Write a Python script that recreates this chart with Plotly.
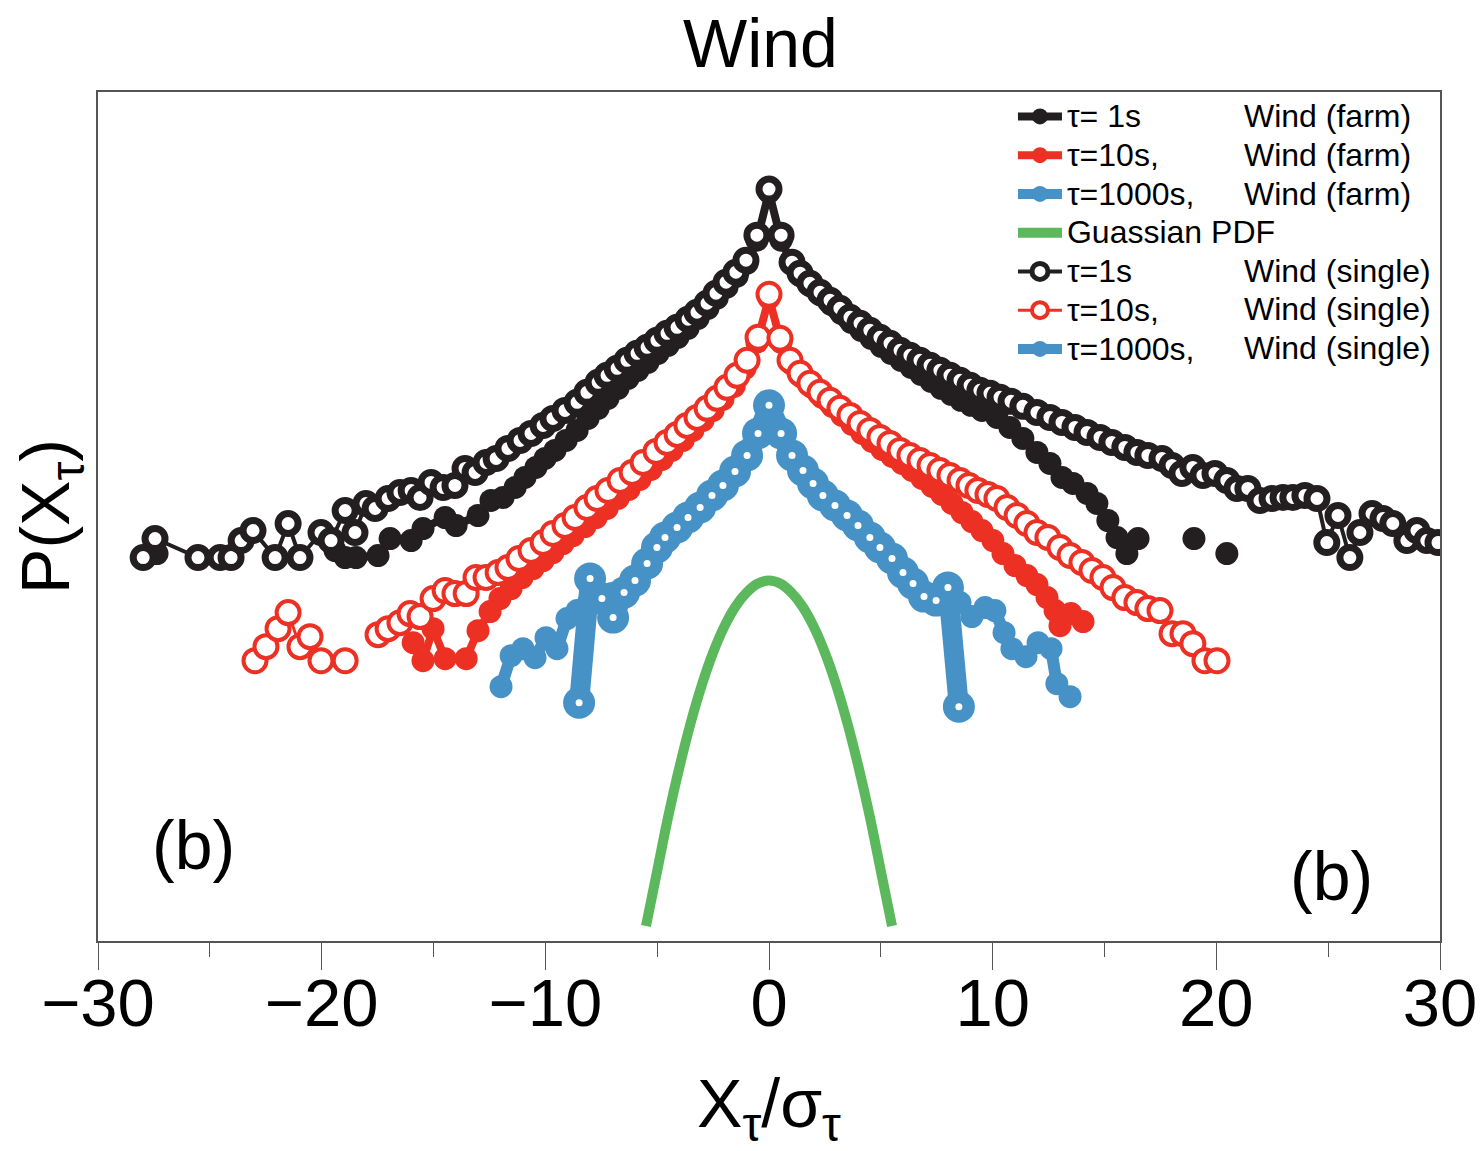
import plotly.graph_objects as go

# ---------------- data (x = X_tau / sigma_tau, y = log-density, arbitrary offset units) ----------------
farm_1s_x = [-27.36, None, -19.40, -18.95, -18.46, -17.48, -16.94, -16.00, -15.47, -14.48, -13.99, -13.01,
             -12.43, -11.89, -11.35, -10.91, -10.42, -10.01, -9.57, -9.07, -8.58, -8.09, -7.64, -7.20,
             -6.75, -6.30, -5.86, -5.41, -4.96, -4.51, -4.07, -3.62, -3.17, -2.73, -2.32, -1.88, -1.43,
             -0.98, -0.54, 0.0, 0.54, 1.03, 1.43, 1.88, 2.32, 2.77, 3.22, 3.67, 4.11, 4.56, 5.01, 5.45,
             5.90, 6.35, 6.79, 7.24, 7.69, 8.14, 8.58, 9.03, 9.52, 10.19, 10.77, 11.35, 11.98, 12.56,
             13.10, 13.59, 14.22, 14.66, 15.15, 15.56, 16.00, 16.50, None, 19.00, None, 20.47]
farm_1s_y = [38.7, None, 39.0, 38.3, 38.3, 38.5, 40.2, 40.0, 41.2, 42.3, 41.5, 42.5,
             44.0, 44.3, 45.3, 46.3, 47.3, 48.2, 49.0, 50.0, 51.0, 52.2, 53.2, 54.2,
             55.2, 56.2, 57.0, 57.8, 58.7, 59.5, 60.3, 61.2, 62.2, 63.2, 64.2, 65.3, 66.4,
             67.7, 70.0, 74.8, 70.0, 67.6, 66.4, 65.4, 64.5, 63.6, 62.7, 61.8, 61.0, 60.2, 59.4, 58.7,
             58.0, 57.3, 56.6, 55.9, 55.2, 54.6, 54.0, 53.5, 53.0, 52.3, 51.3, 50.2, 48.8, 47.7,
             46.3, 45.7, 44.7, 43.7, 42.0, 40.3, 38.7, 40.2, None, 40.2, None, 38.7]

farm_10s_x = [-15.91, -15.47, -15.02, -14.48, -13.54, -13.01, -12.47, -12.03, -11.53, -11.04, -10.55,
              -10.10, -9.66, -9.21, -8.76, -8.23, -7.73, -7.24, -6.75, -6.26, -5.77, -5.27, -4.78,
              -4.34, -3.84, -3.40, -2.95, -2.50, -2.06, -1.56, -1.07, -0.54, 0.0, 0.54, 1.03, 1.48,
              1.92, 2.37, 2.82, 3.26, 3.71, 4.16, 4.60, 5.05, 5.50, 5.95, 6.39, 6.84, 7.29, 7.73,
              8.18, 8.63, 9.07, 9.52, 10.01, 10.46, 11.00, 11.53, 11.98, 12.43, 12.79, 13.01, 13.50, 14.04]
farm_10s_y = [29.8, 28.0, 31.2, 28.2, 28.2, 31.0, 32.9, 34.2, 35.2, 36.3, 37.2,
              38.0, 38.8, 39.7, 40.5, 41.4, 42.3, 43.2, 44.2, 45.1, 46.1, 47.1, 48.1,
              49.0, 50.0, 51.0, 52.0, 53.0, 54.1, 55.4, 57.2, 59.8, 64.2, 59.8, 57.6, 56.3,
              55.3, 54.3, 53.4, 52.5, 51.6, 50.7, 49.9, 49.1, 48.4, 47.7, 47.0, 46.2, 45.4, 44.6,
              43.7, 42.8, 41.9, 41.0, 40.0, 38.7, 37.5, 36.5, 35.6, 34.3, 33.0, 31.5, 32.7, 31.9]

farm_1000s_x = [-11.98, -11.53, -11.00, -10.46, -9.97, -9.48, -9.03, -8.58, -8.09, -7.55, -7.02, -6.48,
                -5.95, -5.45, -5.01, -4.60, -4.11, -3.62, -3.08, -2.55, -2.06, -1.52, -0.98, -0.49,
                0.0, 0.54, 1.03, 1.52, 1.97, 2.41, 2.95, 3.49, 3.98, 4.51, 4.96, 5.50, 5.99, 6.44,
                6.93, 7.47, 8.00, 8.54, 9.07, 9.66, 10.10, 10.51, 10.86, 11.49, 12.03, 12.61, 12.87, 13.46]
farm_1000s_y = [25.4, 28.5, 29.2, 28.3, 30.3, 29.2, 32.2, 33.0, 33.7, 34.2, 34.7, 35.2,
                35.8, 37.3, 38.9, 39.9, 40.9, 41.9, 42.9, 44.1, 45.1, 46.5, 48.1, 50.3,
                53.0, 50.3, 48.1, 46.6, 45.3, 44.1, 43.1, 42.1, 41.1, 40.0, 39.0, 37.8, 36.5, 35.3,
                34.0, 33.6, 34.0, 33.8, 32.4, 33.3, 33.0, 30.8, 29.2, 28.4, 29.8, 29.2, 25.7, 24.4]

gauss_x = [-5.5, -5.0, -4.5, -4.0, -3.5, -3.0, -2.5, -2.0, -1.5, -1.0, -0.5, 0.0,
           0.5, 1.0, 1.5, 2.0, 2.5, 3.0, 3.5, 4.0, 4.5, 5.0, 5.5]
gauss_y = [1.5, 7.0, 12.5, 17.4, 21.8, 25.6, 28.8, 31.4, 33.4, 34.8, 35.7, 36.0,
           35.7, 34.8, 33.4, 31.4, 28.8, 25.6, 21.8, 17.4, 12.5, 7.0, 1.5]

single_1s_x = [-27.98, -27.45, -25.53, -24.54, -24.05, -23.60, -23.07, -22.08, -21.50, -20.97, -20.03,
               -19.58, -18.95, -18.51, -18.02, -17.61, -17.03, -16.50, -16.00, -15.60, -15.11, -14.57,
               -14.04, -13.59, -13.14, -12.65, -12.20, -11.67, -11.13, -10.64, -10.10, -9.66, -9.12,
               -8.58, -8.14, -7.64, -7.24, -6.79, -6.35, -5.90, -5.45, -5.01, -4.56, -4.11, -3.62,
               -3.22, -2.77, -2.37, -1.92, -1.48, -1.03, -0.54, 0.0, 0.54, 1.03, 1.39, 1.83, 2.28,
               2.73, 3.17, 3.62, 4.07, 4.51, 4.96, 5.41, 5.86, 6.30, 6.75, 7.20, 7.64, 8.09, 8.54,
               8.99, 9.43, 9.88, 10.33, 10.82, 11.35, 11.98, 12.56, 13.10, 13.68, 14.22, 14.80, 15.33,
               15.91, 16.45, 16.94, 17.57, 18.02, 18.46, 18.95, 19.40, 19.94, 20.47, 20.92, 21.41,
               21.95, 22.49, 22.98, 23.42, 23.96, 24.50, 24.94, 25.44, 25.97, 26.42, 26.96, 27.45,
               27.89, 28.52, 28.97, 29.41, 29.91]
single_1s_y = [38.3, 40.2, 38.3, 38.3, 38.3, 40.0, 41.0, 38.3, 41.7, 38.3, 40.8,
               40.0, 43.0, 40.8, 43.7, 43.2, 44.2, 44.8, 45.0, 44.3, 45.8, 45.3,
               45.5, 47.2, 46.8, 47.8, 48.2, 49.2, 50.0, 50.7, 51.5, 52.2, 53.0,
               53.8, 54.8, 55.8, 56.5, 57.2, 58.0, 58.7, 59.3, 60.0, 60.7, 61.3, 62.1,
               62.8, 63.7, 64.7, 65.8, 66.8, 68.0, 70.5, 75.1, 70.5, 67.8, 66.7, 65.7, 64.8,
               64.0, 63.2, 62.3, 61.7, 61.0, 60.3, 59.7, 59.0, 58.5, 58.0, 57.5, 57.0, 56.5, 56.0,
               55.5, 55.0, 54.7, 54.3, 53.9, 53.4, 52.8, 52.3, 51.8, 51.3, 50.8, 50.3, 49.8,
               49.3, 48.8, 48.5, 48.2, 47.5, 46.7, 47.3, 46.5, 46.7, 46.0, 45.2, 45.2,
               44.0, 44.2, 44.3, 44.3, 44.5, 44.2, 39.8, 42.5, 38.3, 40.8, 42.7, 42.2,
               41.7, 40.0, 41.0, 40.0, 39.8]

single_10s_x = [-22.98, -22.49, -21.95, -21.50, -20.97, -20.52, -20.03, -18.95, None, -17.48, -17.03,
                -16.50, -16.05, -15.60, -15.02, -14.48, -14.04, -13.54, -13.10, -12.65, -12.11, -11.67,
                -11.18, -10.64, -10.10, -9.66, -9.12, -8.67, -8.14, -7.69, -7.20, -6.66, -6.12, -5.63,
                -5.05, -4.56, -4.11, -3.67, -3.22, -2.77, -2.32, -1.88, -1.43, -0.98, -0.49, 0.0,
                0.49, 0.94, 1.39, 1.83, 2.28, 2.73, 3.17, 3.62, 4.07, 4.51, 4.96, 5.41, 5.86, 6.30,
                6.75, 7.20, 7.64, 8.09, 8.54, 8.94, 9.34, 9.79, 10.19, 10.64, 11.09, 11.53, 11.98,
                12.47, 13.01, 13.46, 13.99, 14.44, 14.93, 15.38, 15.91, 16.45, 16.94, 17.48, 18.02,
                18.51, 18.95, 19.49, 20.03]
single_10s_y = [28.0, 29.4, 31.2, 32.8, 29.4, 30.4, 28.0, 28.0, None, 30.6, 31.2,
                31.8, 32.7, 32.4, 34.2, 35.0, 34.7, 34.7, 36.3, 36.3, 36.8, 37.3,
                38.2, 39.0, 39.8, 40.7, 41.5, 42.3, 43.3, 44.2, 45.0, 46.0, 46.8, 47.8,
                48.9, 49.8, 50.6, 51.5, 52.3, 53.2, 54.2, 55.3, 56.5, 58.0, 60.3, 64.6,
                60.2, 58.0, 56.7, 55.7, 54.8, 54.0, 53.2, 52.5, 51.7, 51.0, 50.3, 49.7, 49.0, 48.5,
                48.0, 47.5, 47.0, 46.5, 46.0, 45.5, 45.0, 44.6, 44.2, 43.3, 42.5, 41.7, 40.8,
                40.3, 39.3, 38.5, 37.8, 37.0, 36.3, 35.3, 34.3, 33.8, 33.2, 33.0, 30.7,
                30.7, 29.7, 28.0, 28.0]

single_1000s_x = [-8.49, -8.00, -7.47, -6.97, -6.48, -5.99, -5.45, -5.01, -4.65, -4.11, -3.62, -3.08,
                  -2.55, -2.06, -1.52, -0.98, -0.49, 0.0, 0.54, 1.03, 1.52, 1.97, 2.41, 2.95, 3.49,
                  3.98, 4.51, 4.96, 5.50, 5.99, 6.44, 6.93, 7.47, 8.00, 8.49]
single_1000s_y = [23.8, 36.2, 34.2, 32.3, 34.8, 36.0, 37.7, 39.3, 40.3, 41.3, 42.3, 43.3,
                  44.5, 45.5, 46.9, 48.5, 50.7, 53.5, 50.7, 48.5, 47.0, 45.7, 44.5, 43.5, 42.5,
                  41.5, 40.3, 39.3, 38.2, 36.8, 35.7, 34.4, 34.0, 35.3, 23.4]

x_ticks = [-30, -20, -10, 0, 10, 20, 30]
x_tick_labels = ["\u221230", "\u221220", "\u221210", "0", "10", "20", "30"]

legend_left = ["\u03c4= 1s", "\u03c4=10s,", "\u03c4=1000s,", "Guassian PDF",
               "\u03c4=1s", "\u03c4=10s,", "\u03c4=1000s,"]
legend_right = ["Wind (farm)", "Wind (farm)", "Wind (farm)", "",
                "Wind (single)", "Wind (single)", "Wind (single)"]

# ---------------- styles ----------------
BLACK = "#231F20"
RED = "#EC3124"
BLUE = "#4692C6"
GREEN = "#5CB85C"
FONT = "Liberation Sans, Arial, Helvetica, sans-serif"
LEG_TXT = 32


def leg(name):
    return '<span style="font-size:%dpx">%s</span>' % (LEG_TXT, name)


fig = go.Figure()

fig.add_trace(go.Scatter(x=farm_1s_x, y=farm_1s_y, name=leg(legend_left[0]), mode="lines+markers",
                         line=dict(color=BLACK, width=8),
                         marker=dict(color=BLACK, size=23, line=dict(width=0))))
fig.add_trace(go.Scatter(x=farm_10s_x, y=farm_10s_y, name=leg(legend_left[1]), mode="lines+markers",
                         line=dict(color=RED, width=8),
                         marker=dict(color=RED, size=23, line=dict(width=0))))
fig.add_trace(go.Scatter(x=farm_1000s_x, y=farm_1000s_y, name=leg(legend_left[2]), mode="lines+markers",
                         line=dict(color=BLUE, width=12),
                         marker=dict(color=BLUE, size=23, line=dict(width=0))))
fig.add_trace(go.Scatter(x=gauss_x, y=gauss_y, name=leg(legend_left[3]), mode="lines",
                         line=dict(color=GREEN, width=10, shape="spline")))
fig.add_trace(go.Scatter(x=single_1s_x, y=single_1s_y, name=leg(legend_left[4]), mode="lines+markers",
                         line=dict(color=BLACK, width=4),
                         marker=dict(color="white", size=20, line=dict(color=BLACK, width=7))))
fig.add_trace(go.Scatter(x=single_10s_x, y=single_10s_y, name=leg(legend_left[5]), mode="lines+markers",
                         line=dict(color=RED, width=3),
                         marker=dict(color="white", size=23, line=dict(color=RED, width=4))))
fig.add_trace(go.Scatter(x=single_1000s_x, y=single_1000s_y, name=leg(legend_left[6]), mode="lines+markers",
                         line=dict(color=BLUE, width=20),
                         marker=dict(color=BLUE, size=32, line=dict(width=0))))
fig.add_trace(go.Scatter(x=single_1000s_x, y=single_1000s_y, mode="markers", showlegend=False,
                         hoverinfo="skip", marker=dict(color="white", size=7, line=dict(width=0))))

annotations = [
    dict(text="Wind", x=0.4933, y=1.058, xref="paper", yref="paper", xanchor="center",
         yanchor="middle", showarrow=False, font=dict(size=68, color="black", family=FONT)),
    dict(text="(b)", x=0.0708, y=0.113, xref="paper", yref="paper", xanchor="center",
         yanchor="middle", showarrow=False, font=dict(size=68, color="black", family=FONT)),
    dict(text="(b)", x=0.9195, y=0.076, xref="paper", yref="paper", xanchor="center",
         yanchor="middle", showarrow=False, font=dict(size=68, color="black", family=FONT)),
]
row_y = [0.9717, 0.9258, 0.8799, 0.834, 0.7892, 0.7444, 0.6985]
for txt, yy in zip(legend_right, row_y):
    if txt:
        annotations.append(dict(text=txt, x=0.8525, y=yy, xref="paper", yref="paper",
                                xanchor="left", yanchor="middle", showarrow=False,
                                font=dict(size=LEG_TXT, color="black", family=FONT)))

fig.update_layout(
    width=1483, height=1151,
    margin=dict(l=98, r=43, t=92, b=210, autoexpand=False),
    paper_bgcolor="white", plot_bgcolor="white",
    font=dict(family=FONT, color="black"),
    showlegend=True,
    legend=dict(x=0.6818, y=1.0, xanchor="left", yanchor="top", bgcolor="rgba(0,0,0,0)",
                borderwidth=0, font=dict(size=27.5, color="black", family=FONT),
                tracegroupgap=0, itemwidth=44),
    annotations=annotations,
)

fig.update_xaxes(
    range=[-30, 30], tickmode="array", tickvals=x_ticks, ticktext=x_tick_labels,
    ticks="outside", ticklen=27, tickwidth=1, tickcolor="#555555",
    minor=dict(dtick=5, ticks="outside", ticklen=14, tickwidth=1, tickcolor="#555555", showgrid=False),
    showline=True, linecolor="#555555", linewidth=1.5, mirror=True,
    showgrid=False, zeroline=False, automargin=False,
    tickfont=dict(size=67, color="black", family=FONT), ticklabelstandoff=-24,
    title=dict(text="X<sub>\u03c4</sub>/\u03c3<sub>\u03c4</sub>", standoff=69,
               font=dict(size=68, color="black", family=FONT)),
)
fig.update_yaxes(
    range=[0, 84.8], showticklabels=False, ticks="",
    showline=True, linecolor="#555555", linewidth=1.5, mirror=True,
    showgrid=False, zeroline=False, automargin=False,
    title=dict(text="P(X<sub>\u03c4</sub>)", standoff=4,
               font=dict(size=68, color="black", family=FONT)),
)

fig.write_html("out.html")
